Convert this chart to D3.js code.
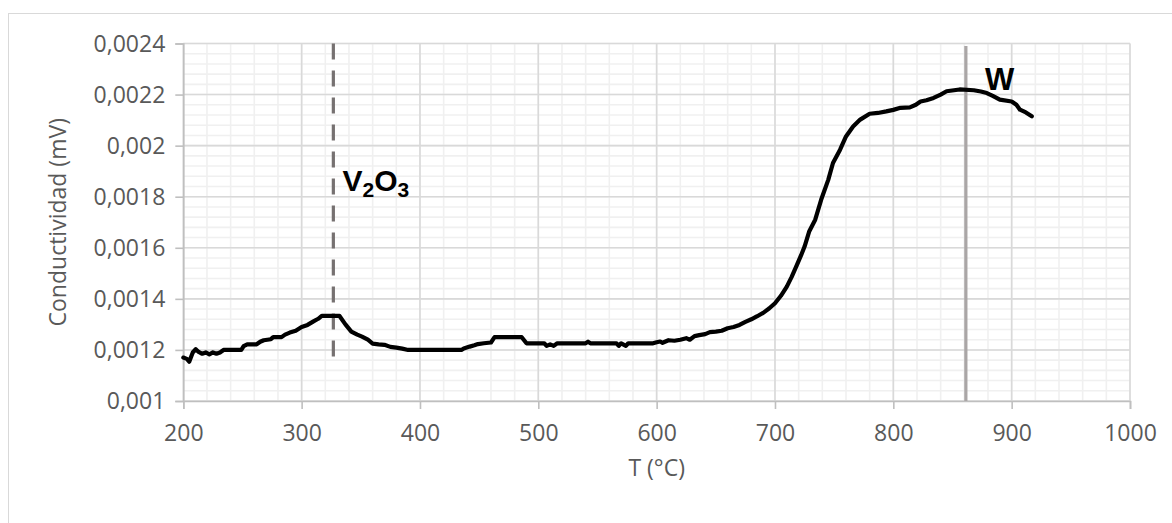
<!DOCTYPE html>
<html>
<head>
<meta charset="utf-8">
<script src="https://cdn.jsdelivr.net/npm/d3@7"></script>
<style>
  html, body { margin: 0; padding: 0; background: #fff; }
  svg { display: block; }
  text { font-family: "Open Sans", "DejaVu Sans", sans-serif; }
</style>
</head>
<body>
<svg id="chart" width="1172" height="523"></svg>
<script>
// Temperature (°C) and conductivity (mV) readings
const temperature = [
  200, 203, 205, 208, 210.5, 213, 216, 219, 222, 225, 228, 231, 234, 249, 251, 254, 262, 265, 268, 274,
  276, 283, 286, 290, 295, 300, 305, 310, 314, 317, 332, 337, 342, 347, 351, 356, 360, 365, 370, 375,
  380, 385, 390, 435, 437, 442, 446, 449, 454, 460, 463, 486, 490, 505, 507, 510, 513, 516, 540, 542,
  544, 566, 568, 570, 574, 576, 597, 600, 603, 605, 610, 615, 620, 625, 628, 632, 636, 641, 645, 650,
  655, 660, 665, 670, 675, 680, 685, 690, 695, 700, 705, 710, 714, 718, 722, 725, 729, 734, 739, 745,
  749, 755, 760, 766, 772, 780, 787, 794, 800, 806, 814, 819, 823, 828, 834, 840, 845, 856, 868, 874,
  879, 884, 890, 900, 904, 907, 912, 917
];
const conductivity = [
  0.00117, 0.001165, 0.001154, 0.00119, 0.001203, 0.001192, 0.001185, 0.00119, 0.001183, 0.00119,
  0.001185, 0.00119, 0.0012, 0.0012, 0.001215, 0.001222, 0.001222, 0.001232, 0.001238, 0.001242,
  0.00125, 0.00125, 0.00126, 0.001268, 0.001275, 0.00129, 0.001298, 0.001312, 0.001322, 0.001333,
  0.001333, 0.0013, 0.001272, 0.00126, 0.001252, 0.00124, 0.001225, 0.001222, 0.00122, 0.001212,
  0.001209, 0.001205, 0.0012, 0.0012, 0.001206, 0.001213, 0.001218, 0.001223, 0.001226, 0.001229,
  0.00125, 0.00125, 0.001226, 0.001226, 0.001216, 0.001222, 0.001216, 0.001226, 0.001226, 0.001232,
  0.001226, 0.001226, 0.001216, 0.001226, 0.001216, 0.001226, 0.001226, 0.00123, 0.001233, 0.001228,
  0.001238, 0.001236, 0.00124, 0.001246, 0.00124, 0.001254, 0.001258, 0.001262, 0.00127, 0.001272,
  0.001275, 0.001285, 0.00129, 0.001298, 0.00131, 0.00132, 0.001332, 0.001345, 0.001362, 0.001383,
  0.001412, 0.001448, 0.001485, 0.001527, 0.00157, 0.001605, 0.001665, 0.00171, 0.001788, 0.001866,
  0.001932, 0.001984, 0.002036, 0.002075, 0.002102, 0.002125, 0.002128, 0.002134, 0.00214, 0.002148,
  0.00215, 0.00216, 0.002173, 0.002178, 0.002187, 0.0022, 0.002213, 0.00222, 0.002217, 0.002212,
  0.002206, 0.002195, 0.00218, 0.002173, 0.00216, 0.002141, 0.00213, 0.002115
];

// Axis ticks
const xTicks = [200, 300, 400, 500, 600, 700, 800, 900, 1000];
const yTicks = [0.001, 0.0012, 0.0014, 0.0016, 0.0018, 0.002, 0.0022, 0.0024];
const yTickLabels = ["0,001", "0,0012", "0,0014", "0,0016", "0,0018", "0,002", "0,0022", "0,0024"];

// Phase markers
const markerNames = ["V2O3", "W"];
const markerT = [326.8, 861.3];
const markerFrom = [0.00114, 0.001];
const markerTo = [0.0024, 0.00239];

const svg = d3.select("#chart");
const width = 1172, height = 523;
const margin = { left: 183.3, right: 42, top: 43.5, bottom: 122 };

svg.append("rect").attr("width", width).attr("height", height).attr("fill", "#fff");
// chart frame
svg.append("rect").attr("x", 8.5).attr("y", 13.5).attr("width", width).attr("height", height)
  .attr("fill", "none").attr("stroke", "#d9d9d9").attr("stroke-width", 1);

const x = d3.scaleLinear().domain([200, 1000]).range([margin.left, width - margin.right]);
const y = d3.scaleLinear().domain([0.001, 0.0024]).range([height - margin.bottom, margin.top]);

const g = svg.append("g");

// minor gridlines (5 per major interval)
const xMinor = d3.range(200, 1000.1, 20);
const yMinor = d3.range(0, 36).map(i => 0.001 + i * 0.00004);
g.selectAll(".xminor").data(xMinor).join("line")
  .attr("x1", d => x(d)).attr("x2", d => x(d)).attr("y1", y(0.001)).attr("y2", y(0.0024))
  .attr("stroke", "#f0f0f0").attr("stroke-width", 1.6);
g.selectAll(".yminor").data(yMinor).join("line")
  .attr("y1", d => y(d)).attr("y2", d => y(d)).attr("x1", x(200)).attr("x2", x(1000))
  .attr("stroke", "#f0f0f0").attr("stroke-width", 1.6);

// major gridlines
g.selectAll(".xmajor").data(xTicks).join("line")
  .attr("x1", d => x(d)).attr("x2", d => x(d)).attr("y1", y(0.001)).attr("y2", y(0.0024))
  .attr("stroke", "#d9d9d9").attr("stroke-width", 1.6);
g.selectAll(".ymajor").data(yTicks).join("line")
  .attr("y1", d => y(d)).attr("y2", d => y(d)).attr("x1", x(200)).attr("x2", x(1000))
  .attr("stroke", "#d9d9d9").attr("stroke-width", 1.6);

// axes
const xAxis = d3.axisBottom(x).tickValues(xTicks).tickSize(8).tickPadding(10).tickFormat(d3.format("d"));
const yAxis = d3.axisLeft(y).tickValues(yTicks).tickSize(8).tickPadding(10)
  .tickFormat((d, i) => yTickLabels[i]);

const gx = svg.append("g").attr("transform", `translate(0,${y(0.001)})`).call(xAxis);
const gy = svg.append("g").attr("transform", `translate(${x(200)},0)`).call(yAxis);
[gx, gy].forEach(a => {
  a.select(".domain").attr("stroke", "#bfbfbf").attr("stroke-width", 1.6);
  a.selectAll(".tick line").attr("stroke", "#bfbfbf").attr("stroke-width", 1.6);
  a.selectAll(".tick text").attr("fill", "#595959").style("font-size", "23px")
    .style("font-family", '"Open Sans", sans-serif');
});
gx.selectAll(".tick text").attr("dy", "0.95em");
gy.selectAll(".tick text").attr("dy", "0.34em");

// axis titles
svg.append("text").attr("x", (x(200) + x(1000)) / 2).attr("y", 476)
  .attr("text-anchor", "middle").attr("fill", "#595959").style("font-size", "23px")
  .text("T (°C)");
svg.append("text")
  .attr("transform", `translate(66,${(y(0.001) + y(0.0024)) / 2}) rotate(-90)`)
  .attr("text-anchor", "middle").attr("fill", "#595959").style("font-size", "23px")
  .text("Conductividad (mV)");

// phase marker lines
svg.append("line")
  .attr("x1", x(markerT[0])).attr("x2", x(markerT[0]))
  .attr("y1", y(markerTo[0])).attr("y2", y(markerFrom[0]))
  .attr("stroke", "#767171").attr("stroke-width", 3.2).attr("stroke-dasharray", "16,11");
svg.append("line")
  .attr("x1", x(markerT[1])).attr("x2", x(markerT[1]))
  .attr("y1", y(markerTo[1])).attr("y2", y(markerFrom[1]))
  .attr("stroke", "#aaa6a6").attr("stroke-width", 3.2);

// conductivity curve
const points = temperature.map((t, i) => [t, conductivity[i]]);
svg.append("path").datum(points)
  .attr("fill", "none").attr("stroke", "#000").attr("stroke-width", 4.2)
  .attr("stroke-linejoin", "round").attr("stroke-linecap", "round")
  .attr("d", d3.line().x(d => x(d[0])).y(d => y(d[1])));

// marker labels
const lbl1 = svg.append("text").attr("x", x(334.5)).attr("y", y(0.001823))
  .attr("fill", "#000").style("font-family", '"Liberation Sans", Arial, sans-serif')
  .style("font-weight", "bold").style("font-size", "30px");
lbl1.append("tspan").text("V");
lbl1.append("tspan").attr("dy", 6).style("font-size", "21px").text("2");
lbl1.append("tspan").attr("dy", -6).text("O");
lbl1.append("tspan").attr("dy", 6).style("font-size", "21px").text("3");

svg.append("text").attr("x", x(877.5)).attr("y", y(0.002218))
  .attr("fill", "#000").style("font-family", '"Liberation Sans", Arial, sans-serif')
  .style("font-weight", "bold").style("font-size", "31px").text(markerNames[1]);
</script>
</body>
</html>
